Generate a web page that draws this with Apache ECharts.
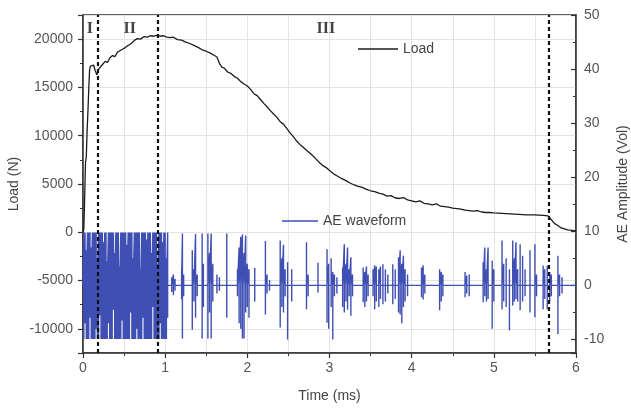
<!DOCTYPE html>
<html><head><meta charset="utf-8">
<script src="https://cdn.jsdelivr.net/npm/echarts@6/dist/echarts.min.js"></script>
<style>html,body{margin:0;padding:0;background:#fff}#c{width:631px;height:411px}</style>
</head><body><div id="c"></div>
<script>
// Load curve (Time in ms, Load in N)
const loadTime = [0,0.01,0.02,0.03,0.04,0.05,0.06,0.07,0.08,0.09,0.11,0.13,0.15,0.17,0.19,0.21,0.24,0.27,0.30,0.33,0.36,0.39,0.42,0.45,0.48,0.51,0.54,0.57,0.60,0.63,0.66,0.70,0.74,0.78,0.82,0.86,0.90,0.94,0.98,1.02,1.06,1.10,1.15,1.20,1.25,1.30,1.35,1.40,1.45,1.50,1.55,1.60,1.63,1.66,1.69,1.72,1.76,1.80,1.84,1.88,1.92,1.96,2.00,2.04,2.08,2.12,2.16,2.20,2.24,2.28,2.32,2.36,2.40,2.44,2.48,2.52,2.56,2.60,2.64,2.68,2.72,2.76,2.80,2.84,2.88,2.92,2.96,3.00,3.05,3.10,3.15,3.20,3.25,3.30,3.35,3.40,3.45,3.50,3.55,3.60,3.65,3.70,3.75,3.80,3.85,3.90,3.95,4.00,4.05,4.10,4.15,4.20,4.25,4.30,4.35,4.40,4.45,4.50,4.55,4.60,4.65,4.70,4.75,4.80,4.85,4.90,4.95,5.00,5.10,5.20,5.30,5.40,5.50,5.60,5.66,5.70,5.74,5.78,5.82,5.86,5.90,5.95,6.00];
const loadValue = [0,300,3500,7200,7800,10500,12500,14800,16800,17200,17000,17300,16700,16300,16900,17100,17400,17700,17600,18100,18300,18200,18650,18800,18950,19100,19300,19450,19650,19900,20050,20000,20250,20200,20350,20300,20400,20300,20350,20200,20150,20200,19950,19900,19700,19550,19350,19150,18900,18750,18550,18300,18150,17500,17100,17000,16600,16450,16150,15950,15600,15350,15150,14800,14350,14150,13750,13350,13000,12600,12250,11900,11450,11200,10750,10300,9900,9450,9100,8800,8500,8200,7900,7550,7200,6900,6700,6400,6050,5800,5550,5350,5100,4900,4750,4650,4450,4300,4200,4050,3950,3750,3800,3550,3500,3600,3350,3250,3150,3250,3000,2950,2850,2950,2700,2650,2600,2500,2450,2400,2300,2250,2200,2250,2100,2050,2050,2000,1950,1900,1850,1800,1800,1750,1700,1300,900,700,450,350,250,200,150];

// AE waveform spikes: [time (ms), positive peak (Vol), negative peak (Vol)]
const aeSpikes = [
 [0.000,0,0],
 [0.010,9.8,-9.9],[0.025,9.8,-7.0],[0.040,6.5,-9.9],[0.055,9.8,-9.9],[0.070,9.8,-9.9],[0.085,9.8,-6.0],
 [0.100,7.0,-9.9],[0.115,9.8,-9.9],[0.130,9.8,-9.9],[0.145,9.8,-9.9],[0.160,9.8,-8.0],[0.175,5.0,-9.9],
 [0.190,9.8,-9.9],[0.205,9.8,-5.5],[0.220,9.8,-9.9],[0.235,9.8,-9.9],[0.250,8.0,-9.9],[0.265,9.8,-9.9],
 [0.280,9.8,-9.9],[0.295,4.5,-9.9],[0.310,9.8,-7.0],[0.325,9.8,-9.9],[0.340,9.8,-9.9],[0.355,9.8,-9.9],
 [0.370,9.8,-4.5],[0.385,6.0,-9.9],[0.400,9.8,-9.9],[0.415,9.8,-9.9],[0.430,9.8,-9.9],[0.445,3.5,-9.9],
 [0.460,9.8,-9.9],[0.475,9.8,-6.5],[0.490,9.8,-9.9],[0.505,9.8,-9.9],[0.520,9.8,-9.9],[0.535,7.5,-9.9],
 [0.550,9.8,-9.9],[0.565,9.8,-9.9],[0.580,9.8,-5.0],[0.595,9.8,-9.9],[0.610,5.0,-9.9],[0.625,9.8,-9.9],
 [0.640,9.8,-9.9],[0.655,9.8,-8.0],[0.670,9.8,-9.9],[0.685,9.8,-9.9],[0.700,3.0,-9.9],[0.715,9.8,-9.9],
 [0.730,9.8,-6.0],[0.745,9.8,-9.9],[0.760,9.8,-9.9],[0.775,8.5,-9.9],[0.790,9.8,-9.9],[0.805,9.8,-9.9],
 [0.820,9.8,-9.9],[0.835,6.0,-9.9],[0.850,9.8,-4.0],[0.865,9.8,-9.9],[0.880,9.8,-9.9],[0.895,9.8,-9.9],
 [0.910,4.0,-9.9],[0.925,9.8,-9.9],[0.940,9.8,-7.0],[0.955,9.8,-9.9],[0.970,8.0,-9.9],[0.985,9.8,-9.9],
 [1.000,9.8,-9.9],[1.015,5.0,-9.9],[1.030,9.8,-6.0],
 [1.08,1.5,-1.2],[1.10,2.0,-1.8],[1.12,1.2,-1.0],
 [1.20,3.0,-2.5],[1.21,9.6,-9.8],[1.225,2.0,-2.0],
 [1.33,6.5,-8.2],[1.35,3.0,-3.0],[1.37,9.5,-6.0],[1.39,2.0,-2.0],
 [1.45,9.6,-9.8],[1.465,4.0,-4.0],
 [1.52,9.6,-9.8],[1.54,6.0,-5.0],[1.56,9.6,-9.8],[1.58,4.0,-3.0],
 [1.63,2.0,-1.5],[1.66,1.5,-1.0],
 [1.75,9.6,-6.0],
 [1.88,3.0,-2.0],[1.90,7.0,-7.0],[1.92,9.0,-8.0],[1.94,9.4,-9.8],[1.96,6.0,-9.8],[1.98,9.2,-5.0],[2.00,4.0,-4.0],[2.02,3.0,-6.0],
 [2.09,3.2,-3.0],
 [2.22,8.2,-5.4],[2.24,2.0,-1.5],[2.27,1.0,-1.0],
 [2.40,8.3,-7.8],[2.42,5.0,-4.0],[2.44,7.5,-5.0],[2.46,3.0,-2.0],[2.49,4.3,-10.0],
 [2.54,3.0,-3.0],
 [2.72,8.0,-4.4],[2.74,2.0,-2.0],
 [2.86,4.2,-1.3],
 [2.97,6.7,-6.9],[2.99,4.0,-8.0],[3.02,5.0,-4.0],[3.04,2.5,-10.0],[3.06,2.0,-2.0],
 [3.09,1.5,-1.5],
 [3.16,3.3,-4.0],[3.18,7.6,-5.0],[3.20,4.0,-3.0],[3.22,7.0,-4.5],[3.24,3.0,-2.0],[3.26,5.2,-5.6],[3.28,2.0,-2.0],
 [3.41,3.3,-3.1],[3.43,2.5,-4.0],[3.45,3.5,-3.0],[3.47,2.0,-2.0],
 [3.53,3.0,-2.0],[3.55,3.7,-4.4],[3.57,3.5,-3.0],[3.60,3.0,-4.0],[3.62,3.5,-2.5],[3.65,3.9,-3.5],[3.68,3.0,-3.0],[3.71,2.0,-1.5],
 [3.77,3.9,-3.5],[3.80,3.0,-2.5],
 [3.84,5.2,-5.0],[3.86,6.5,-5.4],[3.88,4.0,-7.0],[3.90,5.5,-4.0],[3.92,3.0,-3.0],[3.95,2.0,-2.0],
 [4.12,3.3,-2.2],[4.14,3.7,-2.6],[4.16,2.0,-1.5],
 [4.34,3.0,-4.6],[4.36,2.5,-3.0],[4.38,2.0,-2.0],
 [4.65,2.5,-2.2],[4.67,1.8,-1.5],[4.70,2.0,-2.0],
 [4.87,4.3,-3.1],[4.89,7.0,-2.0],[4.91,3.0,-3.0],[4.93,7.0,-2.5],
 [4.98,4.6,-8.0],[5.00,3.0,-3.0],
 [5.10,8.3,-4.4],[5.12,4.0,-3.0],[5.15,5.0,-4.0],
 [5.19,3.0,-8.3],
 [5.23,8.3,-3.7],[5.25,5.0,-3.0],[5.27,8.0,-2.5],[5.29,3.0,-3.0],
 [5.32,7.6,-4.6],[5.35,5.5,-3.0],[5.38,3.0,-2.0],
 [5.44,6.5,-5.0],
 [5.50,7.6,-5.9],[5.52,2.0,-2.0],
 [5.60,3.7,-4.4],[5.62,3.0,-2.5],[5.65,3.7,-4.4],[5.68,2.5,-3.0],[5.70,2.0,-2.0],
 [5.78,5.5,-9.0],[5.80,2.0,-2.0],[5.83,1.5,-1.5],
 [6.000,0,0]
];

const regionNames = ['I','II','III'];
const regionTime = [0.085,0.57,2.956];
const regionLoad = [21100,21100,21100];
const stageBoundaries = [0.18,0.91,5.67];

const loadData = loadTime.map((t,i)=>[t, loadValue[i]]);
const aeData = [];
aeSpikes.forEach(s => { aeData.push([s[0],0],[s[0],s[1]],[s[0],s[2]],[s[0],0]); });
const regionData = regionNames.map((n,i)=>({name:n, value:[regionTime[i], regionLoad[i]]}));

const FONT = '"Liberation Sans", Arial, sans-serif';
const axisCol = '#333';
const gridCol = '#e4e4e4';
const plain = v => String(v);

const chart = echarts.init(document.getElementById('c'), null, {renderer:'canvas'});
chart.setOption({
  animation:false,
  backgroundColor:'#fff',
  grid:{left:83, right:55, top:15, bottom:58, show:true, borderColor:axisCol, borderWidth:1.5,
        containLabel:false, outerBoundsMode:'none'},
  legend:[
    {data:['Load'], left:353, top:37, icon:'rect', itemWidth:40, itemHeight:1.5, itemGap:5,
     textStyle:{color:'#444', fontSize:14, fontFamily:FONT}},
    {data:['AE waveform'], left:277, top:209, icon:'rect', itemWidth:36, itemHeight:1.5, itemGap:5,
     textStyle:{color:'#444', fontSize:14, fontFamily:FONT}}
  ],
  xAxis:{
    type:'value', min:0, max:6, interval:1,
    name:'Time (ms)', nameLocation:'middle', nameGap:36,
    nameTextStyle:{color:'#444', fontSize:14, fontFamily:FONT},
    axisLine:{show:true, onZero:false, lineStyle:{color:axisCol, width:1.5}},
    axisTick:{show:true, length:5, lineStyle:{color:axisCol, width:1.2}},
    minorTick:{show:true, splitNumber:2, length:3, lineStyle:{color:axisCol, width:1}},
    splitLine:{show:true, lineStyle:{color:gridCol, width:1}},
    minorSplitLine:{show:true, lineStyle:{color:gridCol, width:1}},
    axisLabel:{color:'#555', fontSize:14, margin:8, fontFamily:FONT, formatter:plain}
  },
  yAxis:[
    {
      type:'value', min:-12500, max:22500, splitNumber:7,
      name:'Load (N)', nameLocation:'middle', nameGap:62, nameRotate:90, nameMoveOverlap:false,
      nameTextStyle:{color:'#444', fontSize:14, fontFamily:FONT},
      axisLine:{show:true, onZero:false, lineStyle:{color:axisCol, width:1.5}},
      axisTick:{show:true, length:5, lineStyle:{color:axisCol, width:1.2}},
      minorTick:{show:true, splitNumber:2, length:3, lineStyle:{color:axisCol, width:1}},
      splitLine:{show:true, lineStyle:{color:gridCol, width:1}},
      axisLabel:{color:'#555', fontSize:14, margin:10, fontFamily:FONT, showMinLabel:false, showMaxLabel:false, formatter:plain}
    },
    {
      type:'value', position:'right', min:-12.5, max:50, splitNumber:6,
      name:'AE Amplitude (Vol)', nameLocation:'middle', nameGap:40, nameRotate:90, nameMoveOverlap:false,
      nameTextStyle:{color:'#444', fontSize:14, fontFamily:FONT},
      axisLine:{show:true, onZero:false, lineStyle:{color:axisCol, width:1.5}},
      axisTick:{show:true, inside:true, length:5, lineStyle:{color:axisCol, width:1.2}},
      minorTick:{show:true, splitNumber:2, length:3, lineStyle:{color:axisCol, width:1}},
      splitLine:{show:false},
      axisLabel:{color:'#555', fontSize:14, margin:8, fontFamily:FONT, showMinLabel:false, formatter:plain}
    }
  ],
  series:[
    {
      name:'AE waveform', type:'line', yAxisIndex:1, data:aeData,
      symbol:'none', showSymbol:false, z:2,
      lineStyle:{color:'#3f4fb3', width:1.4}, itemStyle:{color:'#3f4fb3'}
    },
    {
      name:'Load', type:'line', yAxisIndex:0, data:loadData,
      symbol:'none', showSymbol:false, z:3,
      lineStyle:{color:'#1c1c1c', width:1.3}, itemStyle:{color:'#1c1c1c'}
    },
    {
      name:'stages', type:'line', yAxisIndex:0, data:[], z:5,
      markLine:{silent:true, symbol:['none','none'], label:{show:false},
        lineStyle:{color:'#111', width:2.2, type:[4,3]},
        data:stageBoundaries.map(v=>({xAxis:v}))}
    },
    {
      name:'regions', type:'scatter', yAxisIndex:0, data:regionData, z:6,
      symbolSize:1, itemStyle:{color:'rgba(0,0,0,0)'},
      label:{show:true, position:'inside', formatter:p=>p.name, textBorderWidth:0,
        color:'#111', fontSize:16, fontWeight:'bold', fontFamily:'"Liberation Serif", "Times New Roman", serif'}
    }
  ]
});
</script></body></html>
